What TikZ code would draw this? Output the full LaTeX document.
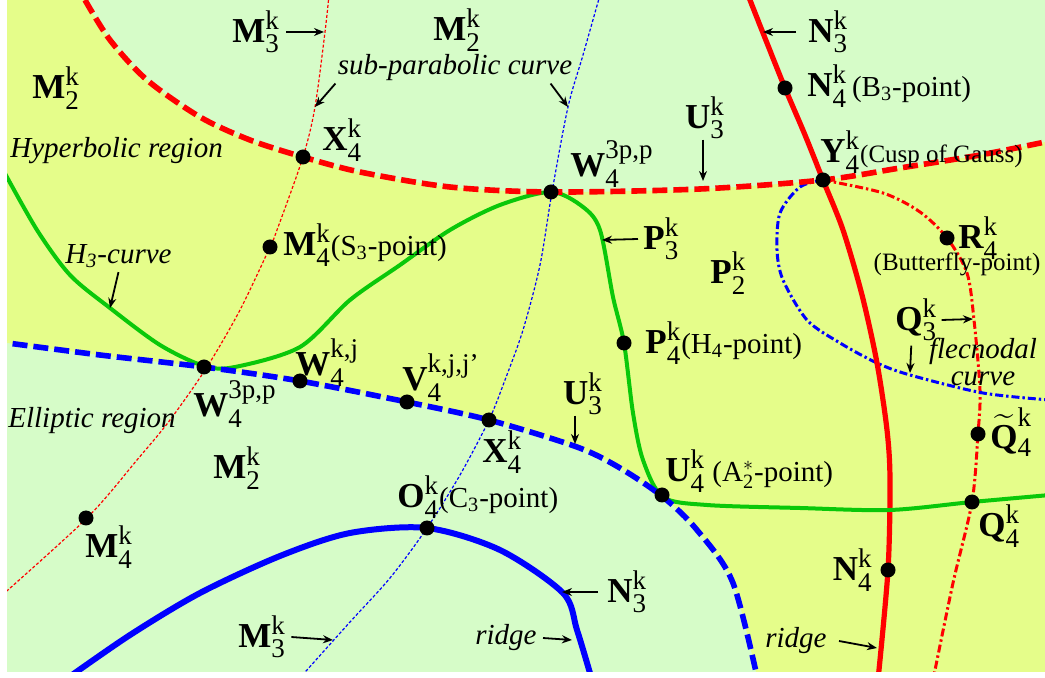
\documentclass[tikz,border=0pt]{standalone}
\usepackage{amsmath}
\usepackage{fontspec}
\setmainfont{Liberation Serif}
\usetikzlibrary{arrows.meta}
\definecolor{ellg}{RGB}{214,252,200}
\definecolor{hypy}{RGB}{229,253,138}
\definecolor{hgreen}{RGB}{10,200,10}
\DeclareMathSizes{17.5}{17.5}{13.5}{10}
\newcommand{\bl}[3]{$\textbf{#1}_{\text{#2}}^{\text{#3}}$}
\newcommand{\rt}[1]{{\fontsize{14.5}{16}\selectfont #1}}
\newcommand{\st}[1]{{\fontsize{12.5}{14}\selectfont #1}}

\begin{document}
\begin{tikzpicture}[x=0.5pt, y=-0.5pt,
  lbl/.style={inner sep=0pt, font=\fontsize{17.5}{20}\selectfont},
  note/.style={inner sep=0pt, font=\fontsize{14.5}{13.5}\selectfont\itshape},
  dot/.style={circle, fill=black, inner sep=0pt, minimum size=7.5pt},
  ar/.style={-{Stealth[length=5pt,width=4pt]}, line width=0.9pt},
  pcurve/.style={line width=2.8pt, dash pattern=on 7.5pt off 3pt},
  ridgeline/.style={line width=2.6pt},
  subpar/.style={line width=0.6pt, dash pattern=on 1.5pt off 1pt},
  flec/.style={line width=1.5pt, dash pattern=on 4pt off 1.5pt on 1.2pt off 1.5pt},
]
\useasboundingbox (0,0) rectangle (1045,678);
\fill[ellg] (7,0) rectangle (1045,672);

\begin{scope}
\clip (7,0) rectangle (1045,672);
% hyperbolic region
\fill[hypy] (0,0) -- (85,0) -- plot[smooth] coordinates {(85,0) (110,40) (147,80) (200,117) (250,140) (303,157) (360,172) (450,187) (551,192) (700,189) (823,180) (900,168) (980,155) (1050,141)}
  -- (1050,680) -- (760,680) -- plot[smooth] coordinates {(760,690) (733,583) (697,530) (663,497) (620,468) (577,447) (489,420) (407,402) (300,381) (204,367) (100,355) (0,342)} -- cycle;

% sub-parabolic curves
\draw[subpar, red] plot[smooth] coordinates {(329,-5) (325,32) (315,107) (303,157) (277,230) (270,247) (240,310) (207,367) (170,420) (137,460) (87,518) (0,597)};
\draw[subpar, blue] plot[smooth] coordinates {(600,-5) (583,55) (568,107) (552,192) (540,265) (523,330) (505,380) (489,420) (460,475) (427,528) (390,578) (350,622) (298,680)};

% flecnodal curves
\draw[flec, red] plot[smooth] coordinates {(823,180) (883,193) (920,212) (947,238) (967,273) (974,320) (980,390) (978,434) (972,502) (953,583) (933,680)};
\draw[flec, blue] plot[smooth] coordinates {(823,180) (800,187) (780,213) (777,250) (783,280) (807,320) (840,343) (877,363) (910,375) (983,393) (1050,400)};

% ridges
\draw[ridgeline, red] plot[smooth] coordinates {(748,-5) (763,33) (785,88) (805,135) (823,180) (843,230) (862,295) (877,363) (887,430) (890,480) (888,570) (878,680)};
\draw[ridgeline, blue, line width=3pt] plot[smooth] coordinates {(65,680) (130,635) (200,593) (280,556) (350,533) (427,528) (500,550) (563,593) (577,630) (592,680)};

% H3-curve
\draw[hgreen, line width=2pt] plot[smooth] coordinates {(2,168) (37,230) (70,275) (110,308) (160,345) (204,366) (235,367) (300,347) (350,300) (400,265) (450,230) (500,205) (551,192) (583,207) (600,230) (613,297) (624,343) (633,413) (643,460) (663,497) (707,505) (800,508) (890,510) (972,502) (1050,495)};

% parabolic curves
\draw[pcurve, red] plot[smooth] coordinates {(85,0) (110,40) (147,80) (200,117) (250,140) (303,157) (360,172) (450,187) (551,192) (700,189) (823,180) (900,168) (980,155) (1050,141)};
\draw[pcurve, blue] plot[smooth] coordinates {(760,690) (733,583) (697,530) (663,497) (620,468) (577,447) (489,420) (407,402) (300,381) (204,367) (100,355) (0,342)};
\end{scope}

% points
\node[dot] (x4a) at (303,157) {};
\node[dot] (m4s) at (270,247) {};
\node[dot] (w4a) at (551,192) {};
\node[dot] (y4) at (823,180) {};
\node[dot] (n4a) at (785,88) {};
\node[dot] (r4) at (947,238) {};
\node[dot] (p4) at (624,343) {};
\node[dot] (w4b) at (204,367) {};
\node[dot] (w4kj) at (300,381) {};
\node[dot] (v4) at (407,402) {};
\node[dot] (x4b) at (489,420) {};
\node[dot] (q4t) at (978,434) {};
\node[dot] (u4) at (662,495) {};
\node[dot] (q4) at (972,502) {};
\node[dot] (o4) at (427,528) {};
\node[dot] (m4b) at (86,518) {};
\node[dot] (n4b) at (888,570) {};

% labels, top part
\node[lbl, anchor=west] (lm3a) at (232,32) {\bl{M}{3}{k}};
\coordinate (em3a) at (324,32);
\draw[ar] ([xshift=3pt]lm3a.east) -- (em3a);
\node[lbl, anchor=west] (lm2a) at (433,30) {\bl{M}{2}{k}};
\node[lbl, anchor=west] (lm2b) at (32,88) {\bl{M}{2}{k}};
\node[note] (lsub) at (455,68) {sub-parabolic curve};
\coordinate (esubl) at (315,107);
\coordinate (esubr) at (568,107);
\draw[ar] ([xshift=-1pt,yshift=-1pt]lsub.south west) -- (esubl);
\draw[ar] ([xshift=-11pt,yshift=-1pt]lsub.south east) -- (esubr);
\node[lbl, anchor=west] (lx4a) at (322,140) {\bl{X}{4}{k}};
\node[note, anchor=west] (lhyp) at (10,151) {Hyperbolic region};
\node[lbl, anchor=west] (lw4a) at (570,164) {\bl{W}{4}{3p,p}};
\node[lbl] (lu3a) at (705,118) {\bl{U}{3}{k}};
\coordinate (eu3a) at (703,181);
\draw[ar] ([xshift=-1pt]lu3a.south) -- (eu3a);
\node[lbl, anchor=west] (ln3a) at (808,32) {\bl{N}{3}{k}};
\coordinate (en3a) at (763,32);
\draw[ar] ([xshift=-6pt]ln3a.west) -- (en3a);
\node[lbl, anchor=west] (ln4a) at (807,86) {\bl{N}{4}{k}\rt{\,(B$_{\text{3}}$-point)}};
\node[lbl, anchor=west] (ly4) at (820,152) {\bl{Y}{4}{k}\st{(Cusp of Gauss)}};

% labels, middle part
\node[note, anchor=west] (lh3) at (65,256) {H$_{\text{3}}$-curve};
\coordinate (eh3) at (110,308);
\draw[ar] ([yshift=-2pt]lh3.south) -- (eh3);
\node[lbl, anchor=west] (lm4s) at (283,245) {\bl{M}{4}{k}\rt{(S$_{\text{3}}$-point)}};
\node[lbl, anchor=west] (lp3) at (643,239) {\bl{P}{3}{k}};
\coordinate (ep3) at (602,240);
\draw[ar] ([xshift=-2.5pt]lp3.west) -- (ep3);
\node[lbl, anchor=west] (lp2) at (710,273) {\bl{P}{2}{k}};
\node[lbl, anchor=west] (lr4) at (958,238) {\bl{R}{4}{k}};
\node[inner sep=0pt] (lbut) at (957,264) {\st{(Butterfly-point)}};
\node[lbl, anchor=west] (lq3) at (895,320) {\bl{Q}{3}{k}};
\coordinate (eq3r) at (973,319);
\coordinate (eq3d) at (910,373);
\draw[ar] ([xshift=2pt]lq3.east) -- (eq3r);
\draw[ar] ([xshift=-2.5pt,yshift=-2pt]lq3.south) -- (eq3d);
\node[note, align=center] (lflec) at (983,362) {flecnodal\\curve};
\node[lbl, anchor=west] (lp4) at (645,343) {\bl{P}{4}{k}\rt{(H$_{\text{4}}$-point)}};
\node[lbl, anchor=west] (lw4kj) at (295,363) {\bl{W}{4}{k,j}};
\node[lbl, anchor=west] (lw4b) at (193,404) {\bl{W}{4}{3p,p}};
\node[lbl, anchor=west] (lv4) at (402,378) {\bl{V}{4}{k,j,j'}};
\node[note, anchor=west] (lell) at (8,421) {Elliptic region};
\node[lbl, anchor=west] (lx4b) at (482,452) {\bl{X}{4}{k}};
\node[lbl] (lu3b) at (583,394) {\bl{U}{3}{k}};
\coordinate (eu3b) at (575,444);
\draw[ar] ([xshift=-4pt]lu3b.south) -- (eu3b);
\node[lbl, anchor=west] (lq4t) at (990,432) {$\widetilde{\textbf{Q}}_{\text{4}}^{\text{k}}$};

% labels, bottom part
\node[lbl, anchor=west] (lm2c) at (213,468) {\bl{M}{2}{k}};
\node[lbl, anchor=west] (lu4) at (665,471) {\bl{U}{4}{k}\rt{\ (A$_{\text{2}}^{*}$-point)}};
\node[lbl, anchor=west] (lo4) at (397,497) {\bl{O}{4}{k}\rt{(C$_{\text{3}}$-point)}};
\node[lbl, anchor=west] (lq4) at (978,526) {\bl{Q}{4}{k}};
\node[lbl, anchor=west] (lm4b) at (85,547) {\bl{M}{4}{k}};
\node[lbl, anchor=east] (ln4b) at (873,570) {\bl{N}{4}{k}};
\node[lbl, anchor=west] (ln3b) at (607,592) {\bl{N}{3}{k}};
\coordinate (en3b) at (562,592);
\draw[ar] ([xshift=-4.5pt]ln3b.west) -- (en3b);
\node[note, anchor=west] (lridgea) at (475,638) {ridge};
\coordinate (eridgea) at (572,640);
\draw[ar] ([xshift=3pt]lridgea.east) -- (eridgea);
\node[lbl, anchor=west] (lm3b) at (238,637) {\bl{M}{3}{k}};
\coordinate (em3b) at (333,640);
\draw[ar] ([xshift=2.5pt]lm3b.east) -- (em3b);
\node[note, anchor=west] (lridgeb) at (765,641) {ridge};
\coordinate (eridgeb) at (877,648);
\draw[ar] ([xshift=6pt]lridgeb.east) -- (eridgeb);
\end{tikzpicture}
\end{document}
